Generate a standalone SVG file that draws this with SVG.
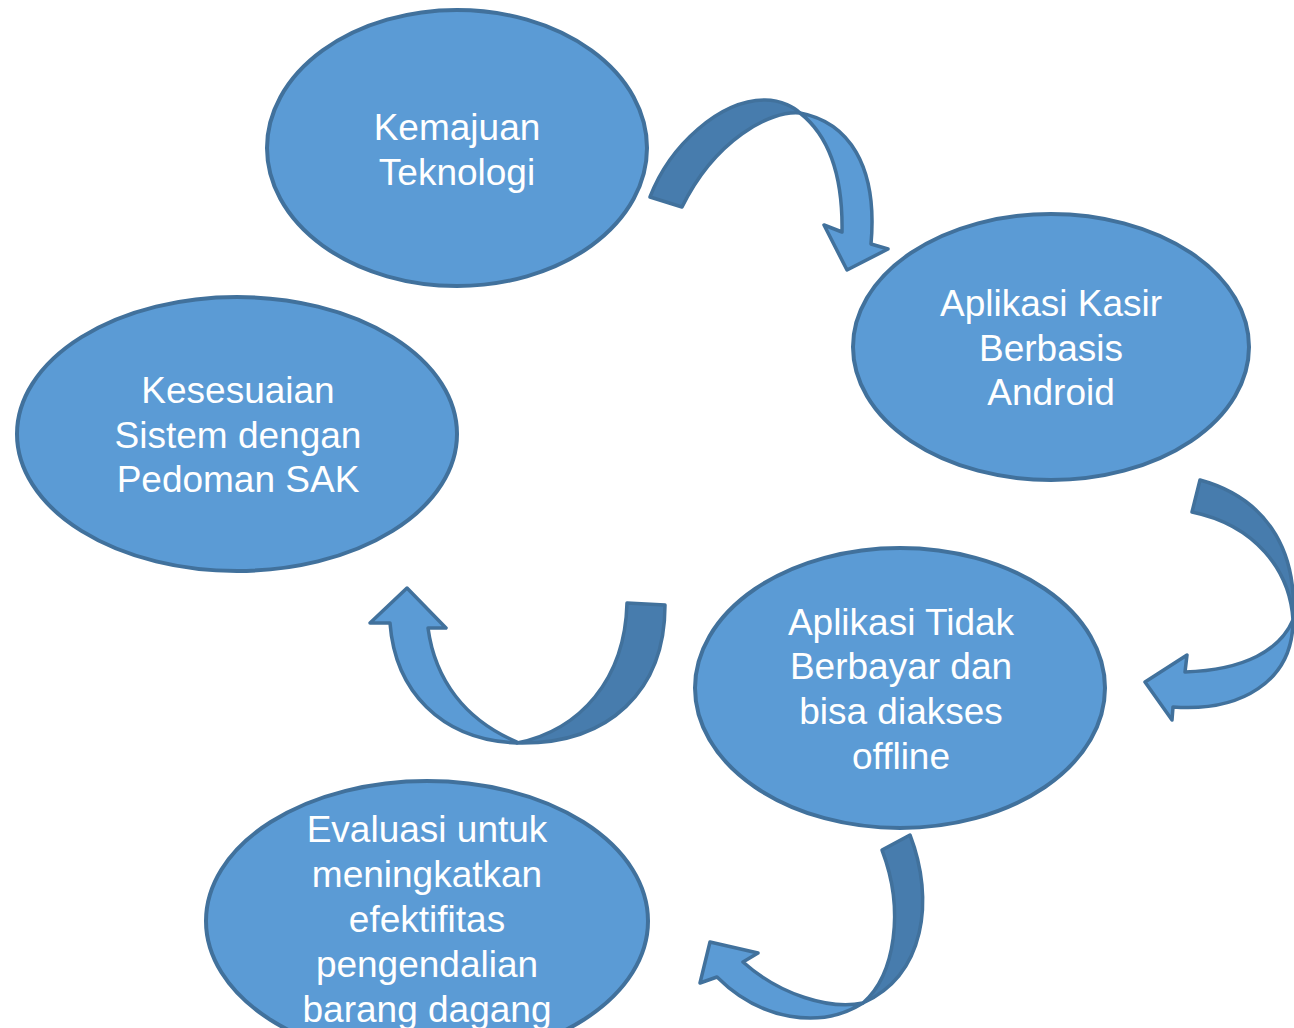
<svg xmlns="http://www.w3.org/2000/svg" width="1294" height="1028" viewBox="0 0 1294 1028">
<style>
.node{fill:#5B9BD5;stroke:#41719C;stroke-width:4}
.lt{fill:#5B9BD5;stroke:#41719C;stroke-width:3.5;stroke-linejoin:round}
.dk{fill:#477CAD;stroke:#41719C;stroke-width:3.5;stroke-linejoin:round}
text{font-family:"Liberation Sans",Arial,sans-serif;font-size:37px;fill:#FFFFFF;text-anchor:middle}
</style>
<rect width="1294" height="1028" fill="#FFFFFF"/>
<g id="n1"><ellipse class="node" cx="457" cy="148" rx="190" ry="138"/>
<text x="457" y="140">Kemajuan</text><text x="457" y="185">Teknologi</text></g>
<g id="n2"><ellipse class="node" cx="1051" cy="347" rx="198" ry="133"/>
<text x="1051" y="316">Aplikasi Kasir</text><text x="1051" y="361">Berbasis</text><text x="1051" y="405">Android</text></g>
<g id="n3"><ellipse class="node" cx="237" cy="434" rx="220" ry="137"/>
<text x="238" y="403">Kesesuaian</text><text x="238" y="448">Sistem dengan</text><text x="238" y="492">Pedoman SAK</text></g>
<g id="n4"><ellipse class="node" cx="900" cy="688" rx="205" ry="140"/>
<text x="901" y="635">Aplikasi Tidak</text><text x="901" y="679">Berbayar dan</text><text x="901" y="724">bisa diakses</text><text x="901" y="769">offline</text></g>
<g id="n5"><ellipse class="node" cx="427" cy="921" rx="221" ry="140"/>
<text x="427" y="842">Evaluasi untuk</text><text x="427" y="887">meningkatkan</text><text x="427" y="932">efektifitas</text><text x="427" y="977">pengendalian</text><text x="427" y="1022">barang dagang</text></g>
<g id="connectors">
<path class="dk" d="M650,197 C670,145 720,100 765,100 C782,100 795,108 800,113 C770,110 715,140 682,207 Z"/>
<path class="lt" d="M800,113 C848,122 878,165 871,244 L888,249 L847,270 L824,225 L842,232 C843,172 828,135 800,113 Z"/>
<path class="dk" d="M1200,480 C1262,497 1298,545 1293,620 C1290,570 1255,525 1192,512 Z"/>
<path class="lt" d="M1293,620 C1293,682 1240,712 1173,707 L1172,720 L1145,682 L1187,655 L1185,672 C1245,670 1280,650 1293,620 Z"/>
<path class="dk" d="M627,603 L665,605 C665,690 610,745 517,743 C580,730 625,680 627,603 Z"/>
<path class="lt" d="M517,743 C440,740 395,690 390,623 L370,623 L407,588 L446,628 L428,628 C435,680 465,720 517,742 Z"/>
<path class="dk" d="M910,835 C935,900 925,975 863,1003 C895,975 905,910 882,850 Z"/>
<path class="lt" d="M863,1003 C820,1030 760,1020 717,977 L700,983 L710,942 L758,953 L743,962 C780,995 830,1010 863,1003 Z"/>
</g>
</svg>
